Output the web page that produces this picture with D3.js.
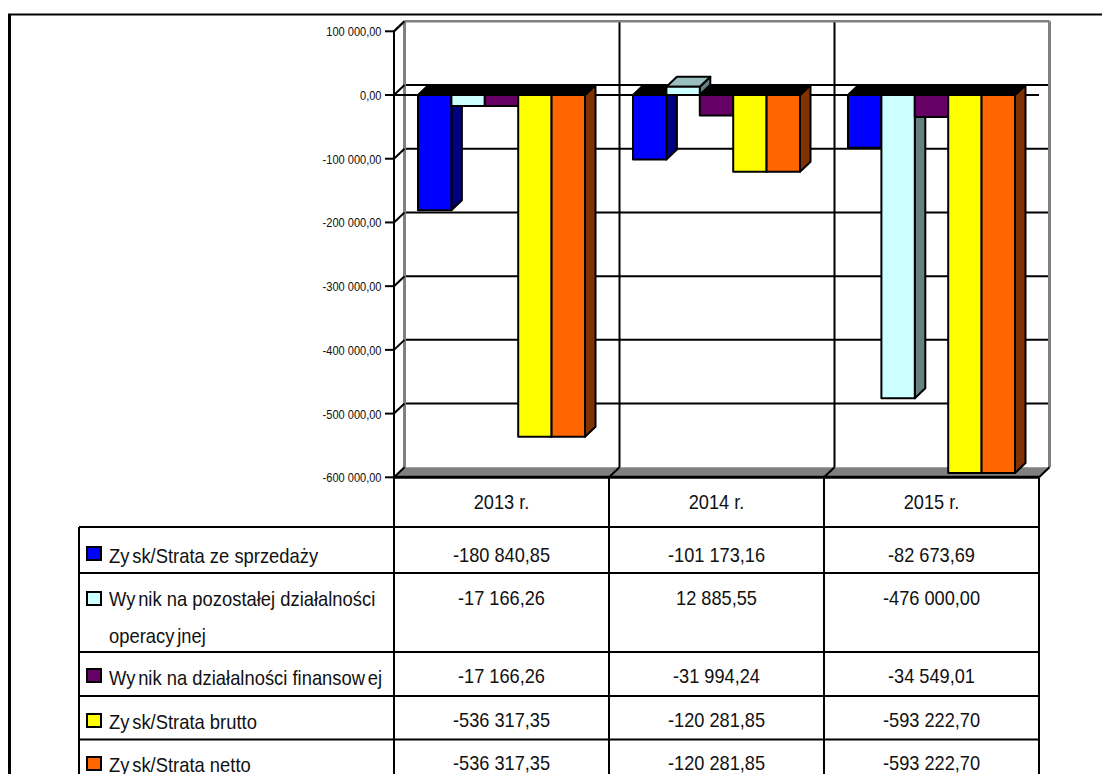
<!DOCTYPE html>
<html><head><meta charset="utf-8">
<script src="https://cdn.jsdelivr.net/npm/d3@7/dist/d3.min.js"></script>
<style>html,body{margin:0;padding:0;background:#fff}svg{display:block}text{font-family:"Liberation Sans",Arial,sans-serif;fill:#111}</style>
</head><body><svg id="c" width="1102" height="774"></svg>
<script>
const years = ["2013 r.", "2014 r.", "2015 r."];
const seriesNames = ["Zysk/Strata ze sprzedaży", "Wynik na pozostałej działalności operacyjnej", "Wynik na działalności finansowej", "Zysk/Strata brutto", "Zysk/Strata netto"];
const sales = [-180840.85, -101173.16, -82673.69];
const otherOps = [-17166.26, 12885.55, -476000.00];
const finance = [-17166.26, -31994.24, -34549.01];
const gross = [-536317.35, -120281.85, -593222.70];
const net = [-536317.35, -120281.85, -593222.70];
const seriesValues = [sales, otherOps, finance, gross, net];
const seriesColors = ["#0000ff", "#ccffff", "#660066", "#ffff00", "#ff6600"];
const tickValues = [100000, 0, -100000, -200000, -300000, -400000, -500000, -600000];

const svg = d3.select("#c");
const fmt = v => { const s = Math.abs(v).toFixed(2).split("."); return (v<0?"-":"") + s[0].replace(/\B(?=(\d{3})+$)/g," ") + "," + s[1]; };
const DX = 10.5, DY = -10;
const y = d3.scaleLinear().domain([-600000,100000]).range([477.3,31.3]);
const x = d3.scaleBand().domain(years).range([394,1039]).paddingInner(0).paddingOuter(0);
const xs = d3.scaleBand().domain(d3.range(5)).range([24,24+167]);
const poly = pts => pts.map(p=>p.join(",")).join(" ");
const LW = 2;
const line = (x1,y1,x2,y2,c="#000",w=LW)=>svg.append("line").attr("x1",x1).attr("y1",y1).attr("x2",x2).attr("y2",y2).attr("stroke",c).attr("stroke-width",w);
function gapText(sel, str, gap){
  const parts = str.split(/(?<=[yw])(?=[a-zżąęśćłóńj\s]?)/);
  parts.forEach((p,i)=>{ sel.append("tspan").attr("dx", i? gap:0).text(p); });
  return sel;
}

// frame: top rule and left rule only
line(8,14.5,1102,14.5,"#000",2);
line(9.5,14,9.5,774,"#000",3);

// walls
const y0 = y(-600000);
tickValues.filter(v=>v>-600000&&v<100000).forEach(v=>line(394+DX,y(v)+DY,1039+DX,y(v)+DY));
x.domain().slice(1).forEach(c=>line(x(c)+DX,y(100000)+DY,x(c)+DX,y0+DY));
svg.append("polygon").attr("points",poly([[394,y0],[394+DX,y0+DY],[1039+DX,y0+DY],[1039,y0]])).attr("fill","#808080");
line(394+DX,y(100000)+DY,394+DX,y0+DY,"#808080",3);
line(394+DX,y(100000)+DY,1039+DX,y(100000)+DY,"#808080",2.5);
line(1039+DX,y(100000)+DY,1039+DX,y0+DY,"#808080",3);
line(394,y(100000),394+DX,y(100000)+DY,"#808080",2.5);
x.domain().slice(1).forEach(c=>line(x(c),y0,x(c)+DX,y0+DY));
line(1039,y0,1039+DX,y0+DY);

// zero plane
line(394,y(0),1039,y(0));

// bars
const shade=(c,k)=>{const r=d3.rgb(c);return d3.rgb(r.r*k,r.g*k,r.b*k).formatHex();};
years.forEach((yr,ci)=>{
  seriesValues.forEach((vals,si)=>{
    const v=vals[ci], xa=x(yr)+xs(si), xb=xa+xs.bandwidth();
    const yt=y(Math.max(v,0)), yb=y(Math.min(v,0));
    const g=svg.append("g").attr("stroke","#000").attr("stroke-width",LW).attr("stroke-linejoin","round");
    g.append("polygon").attr("points",poly([[xb,yt],[xb+DX,yt+DY],[xb+DX,yb+DY],[xb,yb]])).attr("fill",shade(seriesColors[si],.5));
    g.append("polygon").attr("points",poly([[xa,yt],[xa+DX,yt+DY],[xb+DX,yt+DY],[xb,yt]])).attr("fill",v<0?"#000":shade(seriesColors[si],.75));
    g.append("rect").attr("x",xa).attr("y",yt).attr("width",xb-xa).attr("height",yb-yt).attr("fill",seriesColors[si]);
  });
});

// value axis
line(394,y(100000),394,774);
tickValues.forEach(v=>{
  line(385,y(v),394,y(v));
  line(394,y(v),394+DX,y(v)+DY);
  svg.append("text").attr("text-anchor","end").attr("transform",`translate(381.5,${y(v)+5}) scale(.85,1)`).attr("font-size",13).text(fmt(v));
});

// table
const rowLines=[527,573,652,696,739.5];
line(394,y0,1039,y0,"#000",3);
rowLines.forEach(r=>line(79,r,1039,r));
line(79,527,79,774);
x.domain().forEach(c=>line(x(c)+x.bandwidth(),y0,x(c)+x.bandwidth(),774));
const cx=c=>x(c)+x.bandwidth()/2;
const valueY=[561.5,605,683,727,770];
const labelY=[563,606,685,729,772];
const centered=(cxv,yv,s)=>svg.append("text").attr("text-anchor","middle").attr("transform",`translate(${cxv},${yv}) scale(.91,1)`).attr("font-size",20).text(s);
years.forEach(c=>centered(cx(c),509,c));
const swatchY=[547,592,669,714,757];
const labelLines=[["Zysk/Strata ze sprzedaży"],["Wynik na pozostałej działalności","operacyjnej"],["Wynik na działalności finansowej"],["Zysk/Strata brutto"],["Zysk/Strata netto"]];
seriesNames.forEach((n,si)=>{
  svg.append("rect").attr("x",87).attr("y",swatchY[si]).attr("width",14).attr("height",13).attr("fill",seriesColors[si]).attr("stroke","#000").attr("stroke-width",LW);
  labelLines[si].forEach((l,li)=>{
    const t=svg.append("text").attr("transform",`translate(109,${labelY[si]+li*37}) scale(.92,1)`).attr("font-size",20);
    gapText(t,l,3);
  });
  years.forEach((c,ci)=>centered(cx(c),valueY[si],fmt(seriesValues[si][ci])));
});
</script></body></html>
